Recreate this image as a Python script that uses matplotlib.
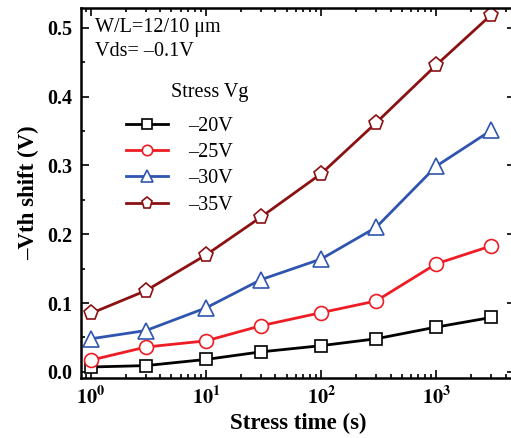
import math
import matplotlib
matplotlib.use('Agg')
from matplotlib import pyplot as plt
from matplotlib.ticker import LogLocator, MultipleLocator, NullFormatter

plt.rcParams['font.family'] = ['Liberation Serif', 'DejaVu Serif']
plt.rcParams['mathtext.fontset'] = 'stix'

stress_time = [1, 3, 10, 30, 100, 300, 1000, 3000]

vg_labels = ['–20V', '–25V', '–30V', '–35V']
shift_20 = [0.007, 0.009, 0.018, 0.029, 0.038, 0.048, 0.065, 0.079]
shift_25 = [0.017, 0.036, 0.045, 0.067, 0.086, 0.103, 0.157, 0.183]
shift_30 = [0.048, 0.060, 0.093, 0.134, 0.164, 0.210, 0.299, 0.351]
shift_35 = [0.085, 0.118, 0.170, 0.225, 0.288, 0.362, 0.446, 0.519]

series = [shift_20, shift_25, shift_30, shift_35]
colors = ['#000000', '#ee1c24', '#2f55b0', '#8b1113']
markers = ['s', 'o', '^', 'p']
msizes = [9, 10, 11, 11]

fig = plt.figure(figsize=(5.11, 4.38), dpi=100)
ax = fig.add_axes([0.1585, 0.137, 0.85, 0.845])

for ys, c, m, ms, lab in zip(series, colors, markers, msizes, vg_labels):
    ax.plot(stress_time, ys, color=c, lw=2, marker=m, ms=ms,
            mfc='white', mec=c, mew=1.2, label=lab)

ax.set_xscale('log')
ax.set_xlim(0.818, 4860)
ax.set_ylim(-0.009, 0.529)

ax.xaxis.set_major_locator(LogLocator(base=10))
ax.xaxis.set_minor_locator(LogLocator(base=10, subs=range(2, 10)))
ax.xaxis.set_minor_formatter(NullFormatter())
ax.xaxis.set_major_formatter(plt.FuncFormatter(lambda v, p: r'$\mathbf{10^{%d}}$' % round(math.log10(v))))
ax.yaxis.set_major_locator(MultipleLocator(0.1))
ax.yaxis.set_minor_locator(MultipleLocator(0.05))
ax.yaxis.set_major_formatter(plt.FuncFormatter(lambda v, p: f'{v:.1f}'))

ax.tick_params(which='both', direction='in', top=True, right=True, width=1.2)
ax.tick_params(which='major', length=6, labelsize=14.5, pad=6)
ax.tick_params(which='minor', length=3)
for lbl in ax.get_xticklabels() + ax.get_yticklabels():
    lbl.set_fontweight('bold')
for sp in ax.spines.values():
    sp.set_linewidth(1.8)

ax.set_xlabel('Stress time (s)', fontsize=16.5, fontweight='bold', labelpad=3)
ax.set_ylabel('–Vth shift (V)', fontsize=16.5, fontweight='bold', labelpad=6)

ax.text(0.032, 0.946, 'W/L=12/10 μm', transform=ax.transAxes, fontsize=14.5, va='center')
ax.text(0.032, 0.881, 'Vds= –0.1V', transform=ax.transAxes, fontsize=14.5, va='center')
ax.text(0.207, 0.772, 'Stress Vg', transform=ax.transAxes, fontsize=14.5, va='center')

leg = ax.legend(loc='upper left', bbox_to_anchor=(0.104, 0.706), borderaxespad=0,
                borderpad=0, frameon=False, fontsize=14.5, handlelength=2.1,
                labelspacing=0.36, handletextpad=1.0, markerscale=0.75)

fig.savefig('out.png', dpi=100)
